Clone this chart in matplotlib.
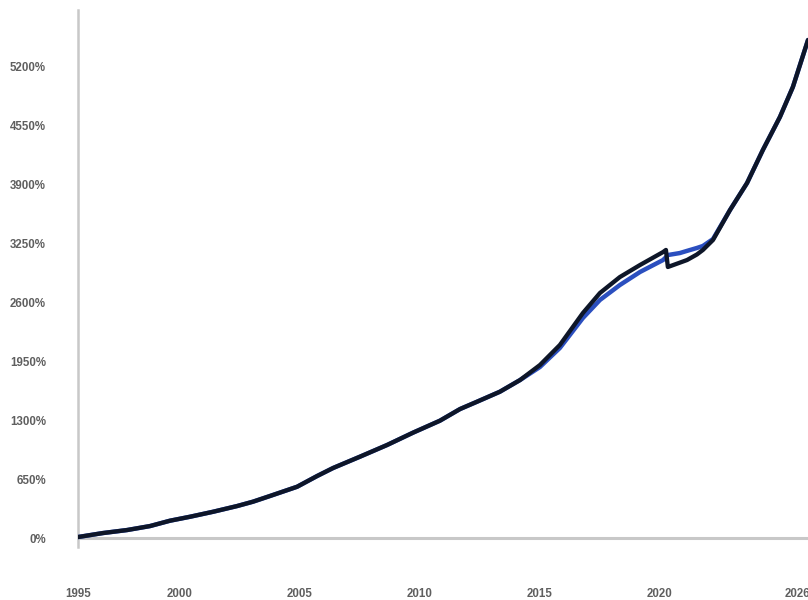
import matplotlib
matplotlib.use("Agg")
from matplotlib import pyplot as plt

# quarter-ish positions in years, values in percent (cumulative growth)
years = [1995.75, 1996.79, 1997.79, 1998.75, 1999.58, 2000.42, 2001.38, 2002.38,
         2003.04, 2003.75, 2004.88, 2005.71, 2006.38, 2007.5, 2008.63, 2009.71,
         2010.83, 2011.67, 2012.38, 2013.33, 2014.17, 2015.0, 2015.83, 2016.79,
         2017.5, 2018.33, 2019.17, 2020.13, 2020.25, 2020.33, 2020.83, 2021.13,
         2021.54, 2021.79, 2022.21, 2022.92, 2023.63, 2024.29, 2025.0, 2025.54,
         2026.17]

black_vals = [11, 55, 88, 132, 191, 235, 290, 353,
              401, 464, 566, 684, 773, 898, 1027, 1163,
              1295, 1424, 1505, 1615, 1744, 1910, 2131, 2484,
              2705, 2881, 3014, 3157, 3180, 2992, 3040, 3069,
              3130, 3180, 3290, 3621, 3919, 4284, 4648, 4979,
              5498]

blue_vals = [11, 55, 88, 132, 191, 235, 290, 353,
             401, 464, 566, 684, 773, 898, 1027, 1163,
             1295, 1424, 1505, 1615, 1744, 1888, 2098, 2429,
             2628, 2793, 2937, 3069, 3100, 3124, 3146, 3170,
             3202, 3224, 3300, 3621, 3919, 4284, 4648, 4979,
             5498]

tick_pos = [1995.75, 2000, 2005, 2010, 2015, 2020, 2025.75]
tick_lab = ["1995", "2000", "2005", "2010", "2015", "2020", "2026"]
y_ticks = [0, 650, 1300, 1950, 2600, 3250, 3900, 4550, 5200]

W, H = 808, 600
fig = plt.figure(figsize=(W / 100, H / 100), dpi=100)
# axes placed in pixel terms: left spine at x=78, top at y=10, bottom at y=547
ax = fig.add_axes([78 / W, 53 / H, (W - 78) / W, 537 / H])

ax.plot(years, blue_vals, color="#2b4fbf", lw=3.2, solid_capstyle="round",
        solid_joinstyle="round", zorder=3)
ax.plot(years, black_vals, color="#0e1628", lw=3.1, solid_capstyle="round",
        solid_joinstyle="round", zorder=4)

ax.set_xlim(1995.75, 2026.17)
ax.set_ylim(-99, 5829)

ax.axhline(0, color="#c8c8c8", lw=2.2, zorder=2)
for s in ["top", "right", "bottom"]:
    ax.spines[s].set_visible(False)
ax.spines["left"].set_color("#c8c8c8")
ax.spines["left"].set_linewidth(1.8)

ax.set_xticks(tick_pos)
ax.set_xticklabels(tick_lab)
ax.set_yticks(y_ticks)
ax.set_yticklabels([f"{v}%" for v in y_ticks])

ax.tick_params(axis="x", length=0, pad=29.5)
ax.tick_params(axis="y", length=0, pad=23)
for lab in ax.get_xticklabels() + ax.get_yticklabels():
    lab.set_fontfamily("Liberation Sans")
    lab.set_fontweight("bold")
    lab.set_fontsize(8.3)
    lab.set_color("#5f5f5f")

fig.savefig("out.png", dpi=100)
